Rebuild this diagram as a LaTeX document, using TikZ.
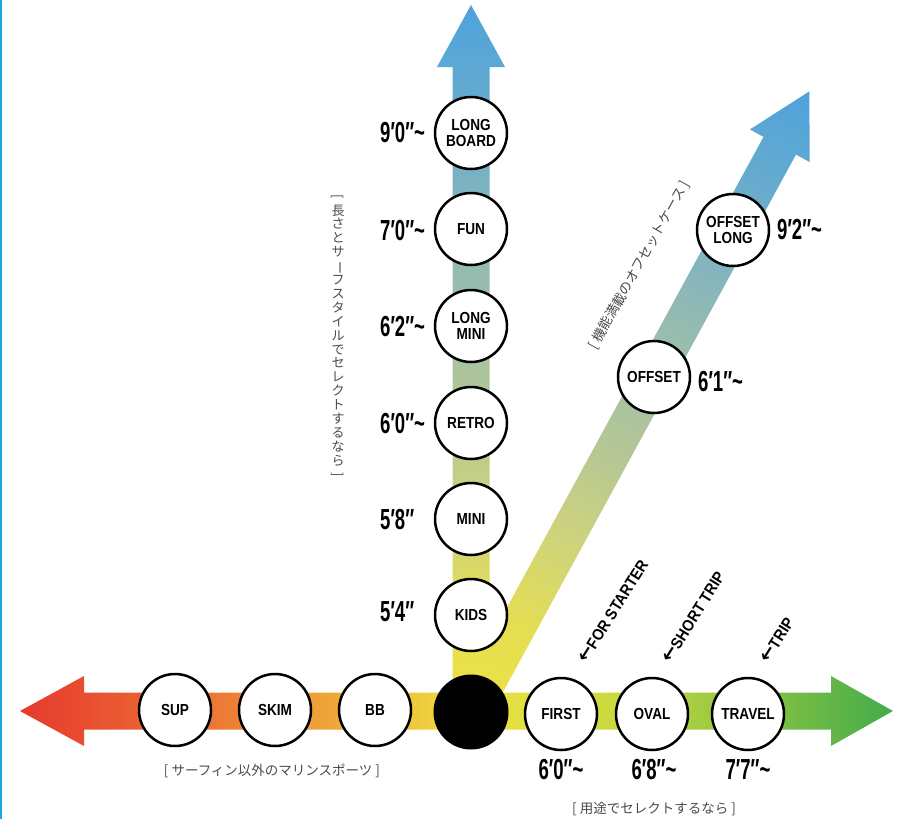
\documentclass[tikz,border=0pt]{standalone}
\usepackage{fontspec}
\usepackage{graphicx}
\usepackage{xcolor}
\setmainfont{Liberation Sans}
\newfontfamily\boardfont[FakeStretch=0.85]{Liberation Sans}
\newfontfamily\sizefont[FakeStretch=0.64]{Liberation Sans}
\newfontfamily\tagfont[FakeStretch=0.9]{Liberation Sans}
\newfontfamily\arrowfont{DejaVu Sans}
\newfontfamily\jpfont{Noto Sans CJK JP}
\newcommand\backarrow{{\arrowfont\fontsize{19}{19}\selectfont ←}}
\definecolor{JPgray}{HTML}{4A4A4A}
\definecolor{EDGEblue}{HTML}{1BA8E0}
\definecolor{HBa}{HTML}{E63A2E}
\definecolor{HBb}{HTML}{EC7034}
\definecolor{HBc}{HTML}{F0B53A}
\definecolor{HBd}{HTML}{EEE242}
\definecolor{HBe}{HTML}{C6D83E}
\definecolor{HBf}{HTML}{84C244}
\definecolor{HBg}{HTML}{44AC4A}
\definecolor{VBa}{HTML}{EEE242}
\definecolor{VBb}{HTML}{E4DE52}
\definecolor{VBc}{HTML}{D0D47A}
\definecolor{VBd}{HTML}{B6C794}
\definecolor{VBe}{HTML}{A2C0A6}
\definecolor{VBf}{HTML}{8BB7B9}
\definecolor{VBg}{HTML}{6CADCB}
\definecolor{VBh}{HTML}{4EA2DC}
\pgfdeclarehorizontalshading{hband}{100bp}{color(0bp)=(HBa); color(25bp)=(HBa);
  color(35bp)=(HBb); color(45bp)=(HBc); color(50.75bp)=(HBd); color(60bp)=(HBe);
  color(67.5bp)=(HBf); color(75bp)=(HBg); color(100bp)=(HBg)}
\pgfdeclareverticalshading{vband}{100bp}{color(0bp)=(VBa); color(25bp)=(VBa);
  color(31.8bp)=(VBb); color(38.5bp)=(VBc); color(45.5bp)=(VBd); color(52.5bp)=(VBe);
  color(59bp)=(VBf); color(66bp)=(VBg); color(75bp)=(VBh); color(100bp)=(VBh)}

\begin{document}
\begin{tikzpicture}[x=1pt,y=-1pt,
    board/.style={circle,draw=black,line width=2.5pt,fill=white,minimum size=72pt,inner sep=0pt,
      align=center,font={\boardfont\bfseries\fontsize{16}{16.5}\selectfont}},
    hub/.style={circle,fill=black,minimum size=75pt,inner sep=0pt},
    sizelab/.style={inner sep=0pt,font={\sizefont\bfseries\fontsize{29}{29}\selectfont}},
    taglab/.style={inner sep=0pt,rotate=58,anchor=west,font={\tagfont\bfseries\fontsize{16}{16}\selectfont}},
    jplab/.style={inner sep=0pt,text=JPgray,font={\jpfont\fontsize{13.5}{15}\selectfont}}]
  \useasboundingbox (0,0) rectangle (899,819);
  \fill[EDGEblue] (0,0) rectangle (2,819);

  \begin{scope}[transform canvas={rotate around={-28.6:(471,712)}}]
    \shade[shading=vband] (452.5,712) -- (452.5,67) -- (437,67) -- (471,5) -- (505,67)
      -- (489.5,67) -- (489.5,712) -- cycle;
  \end{scope}
  \shade[shading=vband] (452.5,712) -- (452.5,67) -- (437,67) -- (471,5) -- (505,67)
    -- (489.5,67) -- (489.5,712) -- cycle;
  \shade[shading=hband] (20,711) -- (84,676) -- (84,692.5) -- (831,692.5) -- (831,676)
    -- (893,711) -- (831,746) -- (831,729.5) -- (84,729.5) -- (84,746) -- cycle;

  \node[hub] (hub) at (471,712) {};

  \node[board] (longboard) at (471,133) {LONG\\BOARD};
  \node[board] (fun) at (471,229) {FUN};
  \node[board] (longmini) at (471,326) {LONG\\MINI};
  \node[board] (retro) at (471,423) {RETRO};
  \node[board] (mini) at (471,519) {MINI};
  \node[board] (kids) at (471,615) {KIDS};

  \node[board] (sup) at (175,710) {SUP};
  \node[board] (skim) at (275,710) {SKIM};
  \node[board] (bb) at (375,710) {BB};

  \node[board] (first) at (561,714) {FIRST};
  \node[board] (oval) at (652,714) {OVAL};
  \node[board] (travel) at (748,714) {TRAVEL};

  \node[board] (offset) at (654,377) {OFFSET};
  \node[board] (offsetlong) at (733,230) {OFFSET\\LONG};

  \node[sizelab,anchor=west] (s90) at (380,133) {9′0″\textasciitilde};
  \node[sizelab,anchor=west] (s70) at (380,231) {7′0″\textasciitilde};
  \node[sizelab,anchor=west] (s62) at (380,327) {6′2″\textasciitilde};
  \node[sizelab,anchor=west] (s60) at (380,424) {6′0″\textasciitilde};
  \node[sizelab,anchor=west] (s58) at (380,520) {5′8″};
  \node[sizelab,anchor=west] (s54) at (380,612) {5′4″};
  \node[sizelab,anchor=west] (s92) at (777,230) {9′2″\textasciitilde};
  \node[sizelab,anchor=west] (s61) at (698,382) {6′1″\textasciitilde};
  \node[sizelab] (s60b) at (561,770) {6′0″\textasciitilde};
  \node[sizelab] (s68) at (654,770) {6′8″\textasciitilde};
  \node[sizelab] (s77) at (748,770) {7′7″\textasciitilde};

  \node[taglab] (starter) at (582,661) {\backarrow FOR STARTER};
  \node[taglab] (shorttrip) at (666,661) {\backarrow SHORT TRIP};
  \node[taglab] (trip) at (764,661) {\backarrow TRIP};

  \node[jplab] (marinenote) at (272,771) {[\ サーフィン以外のマリンスポーツ\ ]};
  \node[jplab] (usenote) at (654,809) {[\ 用途でセレクトするなら\ ]};
  \node[jplab,rotate=60.7] (offsetnote) at (639,265) {[\ 機能満載のオフセットケース\ ]};
  \node[jplab,align=center,font={\jpfont\fontsize{13}{13.9}\selectfont}] (lengthnote) at (338,337)
    {\rotatebox[origin=c]{-90}{[}\\長\\さ\\と\\サ\\\rotatebox[origin=c]{-90}{ー}\\フ\\ス\\タ\\イ\\ル\\で\\セ\\レ\\ク\\ト\\す\\る\\な\\ら\\\rotatebox[origin=c]{-90}{]}};
\end{tikzpicture}
\end{document}
